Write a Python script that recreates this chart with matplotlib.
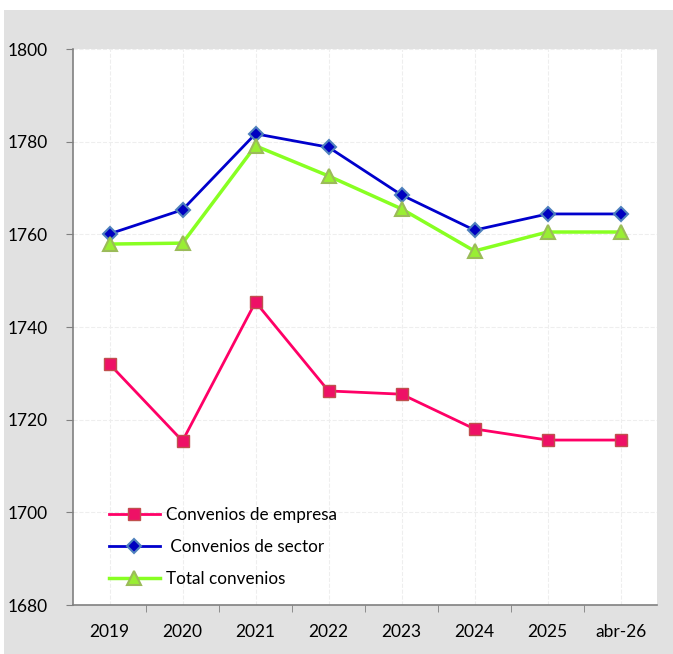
import matplotlib
matplotlib.use('Agg')
import matplotlib.pyplot as plt
import numpy as np

plt.rcParams['font.family'] = ['Lato', 'DejaVu Sans']

categories = ['2019', '2020', '2021', '2022', '2023', '2024', '2025', 'abr-26']
empresa = [1732.0, 1715.4, 1745.4, 1726.2, 1725.5, 1718.0, 1715.6, 1715.6]
sector = [1760.1, 1765.3, 1781.7, 1778.8, 1768.5, 1760.9, 1764.4, 1764.4]
total = [1757.9, 1758.1, 1779.1, 1772.6, 1765.5, 1756.4, 1760.5, 1760.5]
y_ticks = [1680, 1700, 1720, 1740, 1760, 1780, 1800]

fig = plt.figure(figsize=(6.73, 6.54), dpi=100, facecolor='#e1e1e1')
# thin white strips at the top and left edge
fig.patches.append(plt.Rectangle((0, 1 - 10 / 654), 1, 10 / 654, transform=fig.transFigure,
                                 facecolor='white', edgecolor='none', zorder=-1))
fig.patches.append(plt.Rectangle((0, 0), 4 / 673, 1, transform=fig.transFigure,
                                 facecolor='white', edgecolor='none', zorder=-1))
ax = fig.add_axes([73 / 673, 1 - 605 / 654, (657 - 73) / 673, (605 - 49) / 654])
ax.set_facecolor('white')

x = np.arange(len(categories))
ax.plot(x, empresa, color='#ff0066', linewidth=2, marker='s', markersize=9,
        markerfacecolor='#ee1166', markeredgecolor='#c0504d', markeredgewidth=1,
        label='Convenios de empresa', zorder=3)
ax.plot(x, sector, color='#0000cc', linewidth=2, marker='D', markersize=7,
        markerfacecolor='#0000c0', markeredgecolor='#4f81bd', markeredgewidth=1.5,
        label=' Convenios de sector', zorder=3)
ax.plot(x, total, color='#88ff22', linewidth=2.5, marker='^', markersize=10,
        markerfacecolor='#99ee33', markeredgecolor='#9bbb59', markeredgewidth=1.5,
        label='Total convenios', zorder=3)

ax.set_xlim(-0.5, len(categories) - 0.5)
ax.set_ylim(1680, 1800)
ax.set_yticks(y_ticks)
ax.set_yticklabels([str(v) for v in y_ticks], fontsize=12.5)

# category labels at centers, tick marks at boundaries
ax.set_xticks(x)
ax.set_xticklabels(categories, fontsize=12.5)
ax.tick_params(axis='x', length=0, pad=14)
ax.set_xticks(np.arange(0.5, len(categories) - 0.5, 1), minor=True)
ax.tick_params(axis='x', which='minor', length=5, direction='out', color='#808080')
ax.tick_params(axis='y', length=5, direction='out', color='#808080', pad=13)

ax.grid(True, which='major', color='#eeeeee', linestyle='--', linewidth=0.8, zorder=0)
for s in ['top', 'right']:
    ax.spines[s].set_visible(False)
for s in ['left', 'bottom']:
    ax.spines[s].set_color('#808080')
    ax.spines[s].set_linewidth(1.2)

ax.legend(loc='lower left', bbox_to_anchor=(0.035, 0.005), frameon=False, fontsize=12.3,
          handlelength=3.0, labelspacing=0.92, handletextpad=0.35)

fig.savefig('out.png', dpi=100, facecolor=fig.get_facecolor())
